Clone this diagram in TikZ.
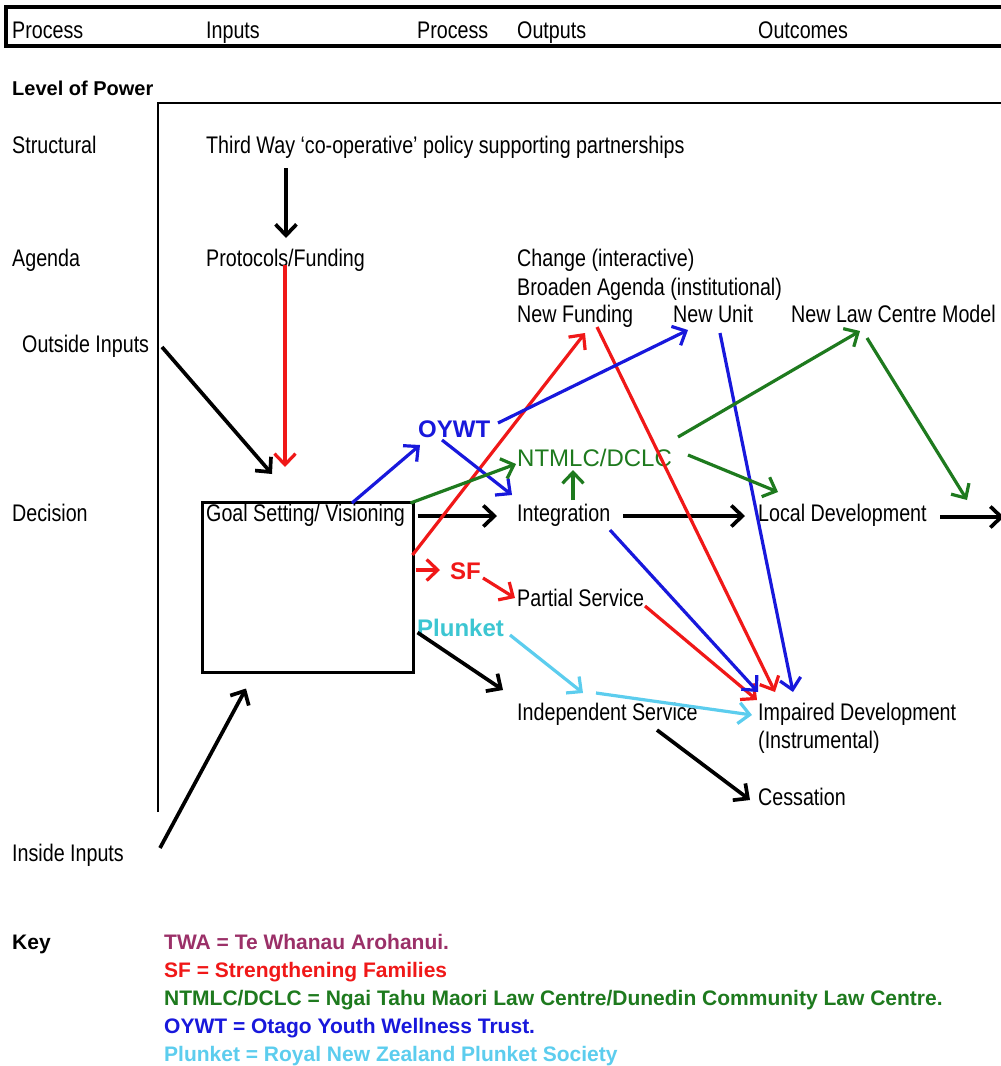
\documentclass[tikz,border=0pt]{standalone}
\usepackage{fontspec}
\setmainfont{Liberation Sans}[FakeStretch=0.82]
\newfontfamily\wfont{Liberation Sans}
\usetikzlibrary{arrows.meta,calc}
\definecolor{cblue}{HTML}{1818DC}
\definecolor{cred}{HTML}{F01818}
\definecolor{cgreen}{HTML}{1E7A1E}
\definecolor{ccyan}{HTML}{5CCDEE}
\definecolor{cteal}{HTML}{3CC6D2}
\definecolor{cpurple}{HTML}{9B3068}
\begin{document}
\begin{tikzpicture}[x=1pt,y=-1pt,
  lbl/.style={anchor=base west,inner sep=0pt,font=\fontsize{24}{28}\selectfont},
  blab/.style={anchor=base west,inner sep=0pt,font=\wfont\bfseries\fontsize{24}{28}\selectfont},
  glab/.style={anchor=base west,inner sep=0pt,font=\wfont\fontsize{24}{28}\selectfont},
  keyl/.style={anchor=base west,inner sep=0pt,font=\wfont\bfseries\fontsize{21}{25}\selectfont},
  arr/.style={line width=3.2pt,line join=round,-{Straight Barb[length=11pt,width=21pt]}},
  barr/.style={arr,line width=3.7pt,black}]
\useasboundingbox (0,0) rectangle (1001,1066);
\clip (0,0) rectangle (1001,1066);
\fill[white] (0,0) rectangle (1001,1066);

% header
\draw[line width=3.5pt] (1010,7) -- (6,7) -- (6,46) -- (1010,46);
\node[lbl] (hproc) at (12,38) {Process};
\node[lbl] (hinp) at (206,38) {Inputs};
\node[lbl] (hproc2) at (417,38) {Process};
\node[lbl] (hout) at (517,38) {Outputs};
\node[lbl] (houtc) at (758,38) {Outcomes};

% frame
\node[anchor=base west,inner sep=0pt,font=\wfont\bfseries\fontsize{20}{24}\selectfont] (lop) at (12,95) {Level of Power};
\draw[line width=2pt] (158,812) -- (158,103) -- (1010,103);

% left labels
\node[lbl] (structural) at (12,153) {Structural};
\node[lbl] (agenda) at (12,266) {Agenda};
\node[lbl] (outside) at (22,352) {Outside Inputs};
\node[lbl] (decision) at (12,521) {Decision};
\node[lbl] (inside) at (12,861) {Inside Inputs};

% nodes
\node[lbl] (thirdway) at (206,153) {Third Way ‘co-operative’ policy supporting partnerships};
\node[lbl] (protocols) at (206,266) {Protocols/Funding};
\node[draw,line width=2.5pt,inner sep=0pt,minimum width=211pt,minimum height=170pt,anchor=north west] (goal) at (201,501) {};
\node[lbl] (goaltxt) at (206,521) {Goal Setting/ Visioning};
\node[lbl] (change) at (517,266) {Change (interactive)};
\node[lbl] (broaden) at (517,295) {Broaden Agenda (institutional)};
\node[lbl] (newfund) at (517,322) {New Funding};
\node[lbl] (newunit) at (673,322) {New Unit};
\node[lbl] (newlaw) at (791,322) {New Law Centre Model};
\node[blab,text=cblue] (oywt) at (418,437) {OYWT};
\node[glab,text=cgreen] (ntmlc) at (517,466) {NTMLC/DCLC};
\node[lbl] (integ) at (517,521) {Integration};
\node[lbl] (localdev) at (758,521) {Local Development};
\node[blab,text=cred] (sf) at (450,579) {SF};
\node[lbl] (partial) at (517,606) {Partial Service};
\node[blab,text=cteal] (plunket) at (417,636) {Plunket};
\node[lbl] (indep) at (517,720) {Independent Service};
\node[lbl] (impaired) at (758,720) {Impaired Development};
\node[lbl] (instr) at (758,748) {(Instrumental)};
\node[lbl] (cess) at (758,805) {Cessation};
\coordinate (offright) at ($(localdev.base west)+(246,-4)$);

% black arrows
\draw[barr] ($(thirdway.base west)+(80,15)$) -- ($(protocols.base west)+(80,-28)$);
\draw[barr] ($(outside.base west)+(140,-5)$) -- ($(goal.north west)+(71,-27)$);
\draw[barr] ($(inside.base west)+(148,-13)$) -- ($(goal.south west)+(45,15)$);
\draw[barr] ($(goal.north east)+(3,15)$) -- ($(integ.base west)+(-20,-5)$);
\draw[barr] ($(integ.base west)+(106,-5)$) -- ($(localdev.base west)+(-13,-5)$);
\draw[barr] ($(localdev.base west)+(182,-4)$) -- (offright);
\draw[barr] ($(goal.south east)+(3,-41)$) -- ($(indep.base west)+(-14,-30)$);
\draw[barr] ($(indep.base west)+(140,10)$) -- ($(cess.base west)+(-8,-5)$);

% red arrows
\draw[arr,cred] ($(protocols.base west)+(79,-1)$) -- ($(goal.north west)+(84,-34)$);
\draw[arr,cred] ($(goal.north east)+(-2,54)$) -- ($(newfund.base west)+(68,11)$);
\draw[arr,cred] ($(newfund.base west)+(80,5)$) -- ($(impaired.base west)+(17,-28)$);
\draw[arr,cred] ($(goal.north east)+(1,69)$) -- ($(sf.base west)+(-10,-9)$);
\draw[arr,cred] ($(sf.base west)+(33,-1)$) -- ($(partial.base west)+(-2,-8)$);
\draw[arr,cred] ($(partial.base west)+(128,0)$) -- ($(impaired.base west)+(-1,-20)$);

% blue arrows
\draw[arr,cblue] ($(goal.north west)+(151,2)$) -- ($(oywt.base west)+(2,8)$);
\draw[arr,cblue] ($(oywt.base west)+(80,-14)$) -- ($(newunit.base west)+(15,8)$);
\draw[arr,cblue] ($(oywt.base west)+(24,3)$) -- ($(integ.base west)+(-5,-26)$);
\draw[arr,cblue] ($(integ.base west)+(93,9)$) -- ($(impaired.base west)+(0,-28)$);
\draw[arr,cblue] ($(newunit.base west)+(47,11)$) -- ($(impaired.base west)+(35,-28)$);

% green arrows
\draw[arr,cgreen] ($(goal.north east)+(-4,2)$) -- ($(ntmlc.base west)+(-1,-2)$);
\draw[arr,cgreen] ($(integ.base west)+(56,-21)$) -- ($(ntmlc.base west)+(56,4)$);
\draw[arr,cgreen] ($(ntmlc.base west)+(161,-29)$) -- ($(newlaw.base west)+(69,9)$);
\draw[arr,cgreen] ($(ntmlc.base west)+(171,-11)$) -- ($(localdev.base west)+(20,-29)$);
\draw[arr,cgreen] ($(newlaw.base west)+(76,16)$) -- ($(localdev.base west)+(209,-21)$);

% cyan arrows
\draw[arr,ccyan] ($(plunket.base west)+(93,-1)$) -- ($(indep.base west)+(66,-27)$);
\draw[arr,ccyan] ($(indep.base west)+(79,-27)$) -- ($(impaired.base west)+(-6,-5)$);

% key
\node[keyl] (key) at (12,949) {Key};
\node[keyl,text=cpurple] (k1) at (164,949) {TWA = Te Whanau Arohanui.};
\node[keyl,text=cred] (k2) at (164,977) {SF = Strengthening Families};
\node[keyl,text=cgreen] (k3) at (164,1005) {NTMLC/DCLC = Ngai Tahu Maori Law Centre/Dunedin Community Law Centre.};
\node[keyl,text=cblue] (k4) at (164,1033) {OYWT = Otago Youth Wellness Trust.};
\node[keyl,text=ccyan] (k5) at (164,1061) {Plunket = Royal New Zealand Plunket Society};
\end{tikzpicture}
\end{document}
